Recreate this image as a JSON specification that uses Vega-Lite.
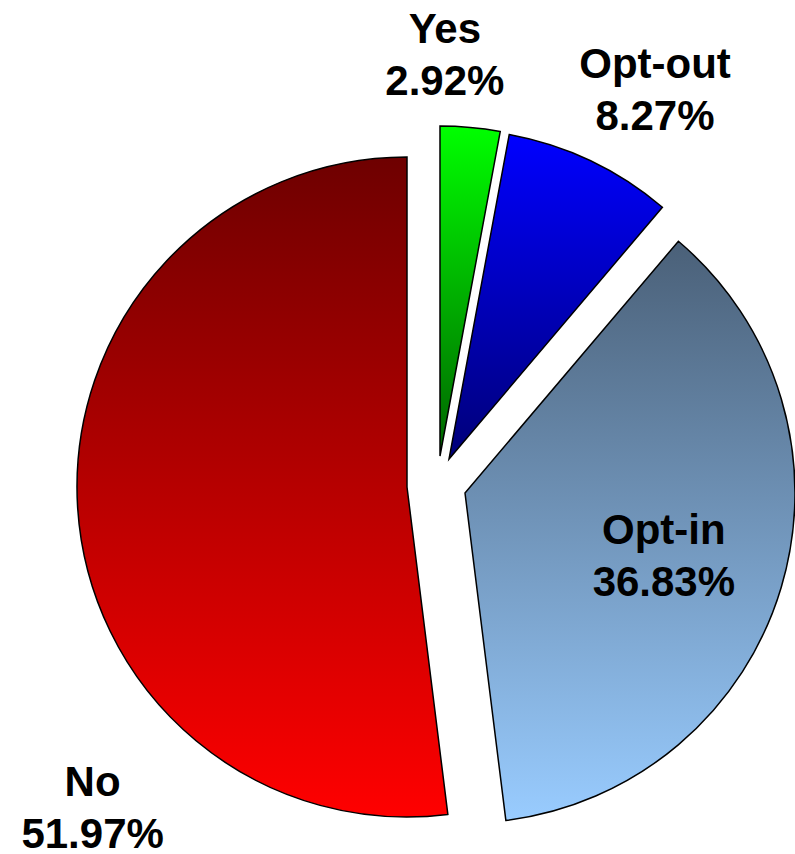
{
  "$schema": "https://vega.github.io/schema/vega-lite/v6.json",
  "width": 700,
  "height": 700,
  "autosize": {"type": "none"},
  "padding": {"left": 57, "top": 137, "right": 38, "bottom": 17},
  "background": "white",
  "view": {"stroke": null},
  "data": {
    "values": [
      {"cat": "Yes", "value": 2.92},
      {"cat": "Opt-out", "value": 8.27},
      {"cat": "Opt-in", "value": 36.83},
      {"cat": "No", "value": 51.97}
    ]
  },
  "transform": [
    {"calculate": "datum.cat + '\\n' + format(datum.value, '.2f') + '%'", "as": "label"}
  ],
  "encoding": {
    "theta": {"field": "value", "type": "quantitative", "stack": true},
    "order": {"field": "value", "type": "quantitative", "sort": "ascending"}
  },
  "layer": [
    {
      "mark": {
        "type": "arc", "outerRadius": 330, "stroke": "black", "strokeWidth": 1.5,
        "fill": {"gradient": "linear", "x1": 0, "y1": 0, "x2": 0, "y2": 1,
          "stops": [{"offset": 0, "color": "#6e0000"}, {"offset": 1, "color": "#ff0000"}]}
      },
      "encoding": {"opacity": {"condition": {"test": "datum.cat === 'No'", "value": 1}, "value": 0}}
    },
    {
      "mark": {
        "type": "arc", "outerRadius": 330, "stroke": "black", "strokeWidth": 1.5, "xOffset": 58, "yOffset": 6,
        "fill": {"gradient": "linear", "x1": 0, "y1": 0, "x2": 0, "y2": 1,
          "stops": [{"offset": 0, "color": "#4a6078"}, {"offset": 1, "color": "#99ccff"}]}
      },
      "encoding": {"opacity": {"condition": {"test": "datum.cat === 'Opt-in'", "value": 1}, "value": 0}}
    },
    {
      "mark": {
        "type": "arc", "outerRadius": 330, "stroke": "black", "strokeWidth": 1.5, "xOffset": 42, "yOffset": -28,
        "fill": {"gradient": "linear", "x1": 0, "y1": 0, "x2": 0, "y2": 1,
          "stops": [{"offset": 0, "color": "#0000ff"}, {"offset": 1, "color": "#000078"}]}
      },
      "encoding": {"opacity": {"condition": {"test": "datum.cat === 'Opt-out'", "value": 1}, "value": 0}}
    },
    {
      "mark": {
        "type": "arc", "outerRadius": 330, "stroke": "black", "strokeWidth": 1.5, "xOffset": 33, "yOffset": -31,
        "fill": {"gradient": "linear", "x1": 0, "y1": 0, "x2": 0, "y2": 1,
          "stops": [{"offset": 0, "color": "#00ff00"}, {"offset": 1, "color": "#006400"}]}
      },
      "encoding": {"opacity": {"condition": {"test": "datum.cat === 'Yes'", "value": 1}, "value": 0}}
    },
    {
      "mark": {"type": "text", "radius": 446, "dx": -3, "dy": 0, "font": "Liberation Sans", "fontWeight": "bold", "fontSize": 42, "lineHeight": 52, "lineBreak": "\n", "align": "center", "baseline": "alphabetic", "color": "black"},
      "encoding": {"text": {"field": "label"}, "opacity": {"condition": {"test": "datum.cat === 'Yes'", "value": 1}, "value": 0}}
    },
    {
      "mark": {"type": "text", "radius": 478, "dx": 43, "dy": 23, "font": "Liberation Sans", "fontWeight": "bold", "fontSize": 42, "lineHeight": 52, "lineBreak": "\n", "align": "center", "baseline": "alphabetic", "color": "black"},
      "encoding": {"text": {"field": "label"}, "opacity": {"condition": {"test": "datum.cat === 'Opt-out'", "value": 1}, "value": 0}}
    },
    {
      "mark": {"type": "text", "radius": 268, "dx": 0, "dy": -20, "font": "Liberation Sans", "fontWeight": "bold", "fontSize": 42, "lineHeight": 52, "lineBreak": "\n", "align": "center", "baseline": "alphabetic", "color": "black"},
      "encoding": {"text": {"field": "label"}, "opacity": {"condition": {"test": "datum.cat === 'Opt-in'", "value": 1}, "value": 0}}
    },
    {
      "mark": {"type": "text", "radius": 315, "dx": 0, "dy": 289, "font": "Liberation Sans", "fontWeight": "bold", "fontSize": 42, "lineHeight": 52, "lineBreak": "\n", "align": "center", "baseline": "alphabetic", "color": "black"},
      "encoding": {"text": {"field": "label"}, "opacity": {"condition": {"test": "datum.cat === 'No'", "value": 1}, "value": 0}}
    }
  ]
}
